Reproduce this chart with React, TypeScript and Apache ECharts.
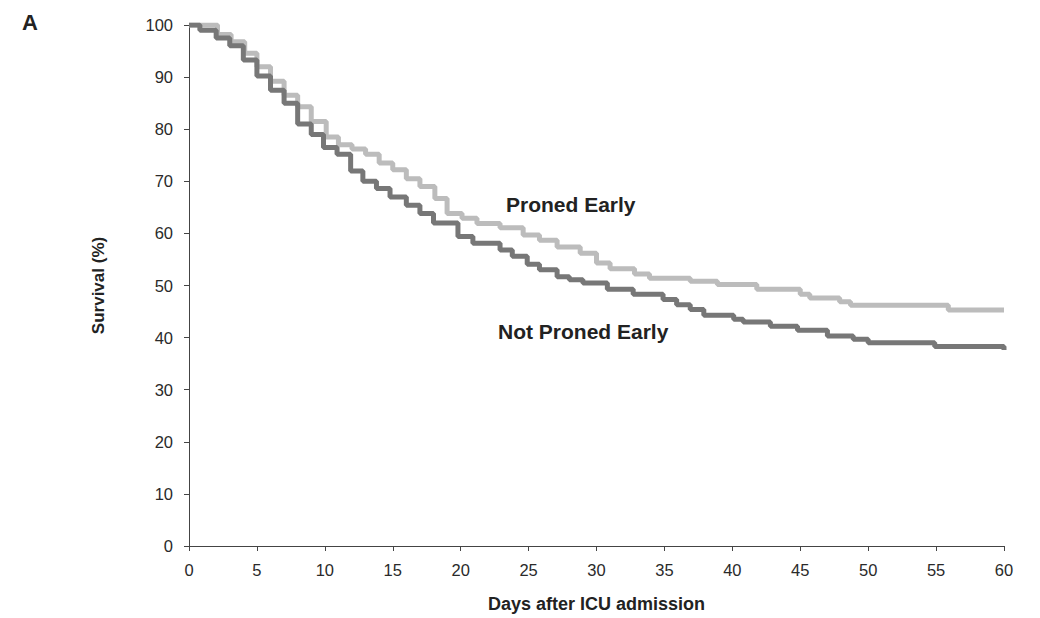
import React, { useEffect, useRef } from "react";
import * as echarts from "echarts";

const pronedDays = [0, 2.1, 3.1, 4.1, 5, 6, 7, 8, 9, 10.1, 11, 12, 13, 14, 15, 16, 17, 18.1, 19, 20.1, 21.2, 22.9, 24.6, 25.8, 27.1, 28.8, 30, 31, 32.8, 33.9, 36.9, 38.9, 41.8, 45, 45.7, 47.9, 48.7, 55.9, 60];
const pronedSurv = [100, 98.2, 96.8, 94.6, 92, 89.2, 86.5, 84.3, 81.5, 78.5, 77, 76.2, 75.2, 73.5, 72.2, 70.5, 69, 66.7, 63.8, 62.9, 61.9, 61.1, 59.7, 58.7, 57.4, 56.2, 54.3, 53.2, 52.2, 51.4, 50.8, 50.2, 49.3, 48.3, 47.6, 46.9, 46.2, 45.3, 45.3];

const notDays = [0, 0.8, 2, 3, 4, 5, 6, 7, 8, 9, 9.9, 10.9, 11.9, 12.8, 13.8, 14.8, 16, 17, 18, 19.8, 20.9, 22.9, 23.8, 24.9, 25.8, 27.1, 28, 29, 30.8, 32.7, 34.9, 35.9, 36.9, 37.9, 40.1, 40.8, 42.8, 44.8, 47, 48.9, 50, 54.9, 60];
const notSurv = [100, 99, 97.5, 96, 93.3, 90.2, 87.5, 85, 81, 79, 76.5, 75.2, 72, 70, 68.6, 67, 65.4, 63.8, 62, 59.4, 58.1, 56.8, 55.6, 54.1, 53, 51.7, 51.1, 50.5, 49.3, 48.3, 47.3, 46.3, 45.4, 44.3, 43.5, 43, 42.2, 41.4, 40.3, 39.7, 39, 38.3, 37.6];

const xTicks = [0, 60, 5];
const yTicks = [0, 100, 10];

const FONT = "'Liberation Sans', Arial, sans-serif";

export default function App() {
  const ref = useRef<HTMLDivElement>(null);
  useEffect(() => {
    if (!ref.current) return;
    const chart = echarts.init(ref.current, undefined, { renderer: "svg" });
    const toPairs = (d: number[], v: number[]) => d.map((x, i) => [x, v[i]]);
    chart.setOption({
      animation: false,
      backgroundColor: "#ffffff",
      textStyle: { fontFamily: FONT },
      grid: { left: 189, right: 36, top: 25, bottom: 68 },
      xAxis: {
        type: "value",
        min: xTicks[0],
        max: xTicks[1],
        interval: xTicks[2],
        name: "Days after ICU admission",
        nameLocation: "middle",
        nameGap: 49,
        nameTextStyle: { fontFamily: FONT, fontSize: 18, fontWeight: "bold", color: "#222" },
        axisLine: { lineStyle: { color: "#444", width: 1 } },
        axisTick: { show: true, length: 5, lineStyle: { color: "#444" } },
        axisLabel: { fontFamily: FONT, fontSize: 16.5, color: "#2a2a2a", margin: 15 },
        splitLine: { show: false },
      },
      yAxis: {
        type: "value",
        min: yTicks[0],
        max: yTicks[1],
        interval: yTicks[2],
        name: "Survival (%)",
        nameLocation: "middle",
        nameGap: 82,
        nameRotate: 90,
        nameTextStyle: { fontFamily: FONT, fontSize: 17, fontWeight: "bold", color: "#222" },
        axisLine: { show: true, lineStyle: { color: "#444", width: 1 } },
        axisTick: { show: true, length: 5, lineStyle: { color: "#444" } },
        axisLabel: { fontFamily: FONT, fontSize: 16.5, color: "#2a2a2a", margin: 16 },
        splitLine: { show: false },
      },
      series: [
        {
          name: "Proned Early",
          type: "line",
          step: "end",
          showSymbol: false,
          symbol: "none",
          data: toPairs(pronedDays, pronedSurv),
          lineStyle: { color: "#bcbcbc", width: 5 },
          z: 2,
        },
        {
          name: "Not Proned Early",
          type: "line",
          step: "end",
          showSymbol: false,
          symbol: "none",
          data: toPairs(notDays, notSurv),
          lineStyle: { color: "#777777", width: 5 },
          z: 3,
        },
      ],
      graphic: [
        {
          type: "text",
          left: 22,
          top: 11,
          style: { text: "A", fontFamily: FONT, fontSize: 22, fontWeight: "bold", fill: "#222" },
        },
        {
          type: "text",
          x: 506,
          y: 194,
          style: { text: "Proned Early", fontFamily: FONT, fontSize: 21, fontWeight: "bold", fill: "#222" },
        },
        {
          type: "text",
          x: 498,
          y: 321,
          style: { text: "Not Proned Early", fontFamily: FONT, fontSize: 21, fontWeight: "bold", fill: "#222" },
        },
      ],
    });
    return () => chart.dispose();
  }, []);
  return <div ref={ref} style={{ position: "fixed", left: 0, top: 0, width: 1040, height: 618 }} />;
}
